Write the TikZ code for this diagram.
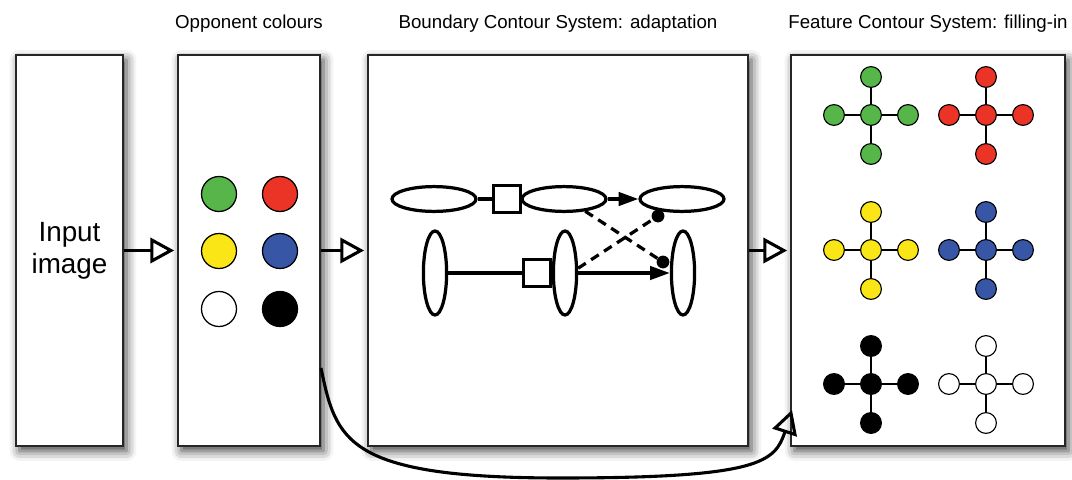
\documentclass[tikz,border=0pt]{standalone}
\usepackage{fontspec}
\setmainfont{Liberation Sans}
\usetikzlibrary{arrows.meta,shapes.geometric,shadows.blur}
\definecolor{cgreen}{RGB}{86,182,74}
\definecolor{cred}{RGB}{236,52,38}
\definecolor{cyellow}{RGB}{250,230,22}
\definecolor{cblue}{RGB}{56,86,166}
\begin{document}
\begin{tikzpicture}[x=0.025cm,y=-0.025cm,
	panel/.style={draw=black!85,line width=1.4pt,fill=white,inner sep=0pt,minimum height=9.775cm,
		blur shadow={shadow xshift=2.5pt,shadow yshift=-3.5pt,shadow blur radius=7pt,shadow opacity=75}},
	heading/.style={anchor=base,font=\fontsize{13.3}{15}\selectfont},
	flow/.style={line width=2.2pt,-{Triangle[open,length=17pt,width=18pt]}},
	opp/.style={circle,draw,line width=0.9pt,inner sep=0pt,minimum size=0.875cm},
	hcell/.style={ellipse,draw,line width=2.3pt,inner sep=0pt,minimum width=2.1cm,minimum height=0.62cm},
	vcell/.style={ellipse,draw,line width=2.3pt,inner sep=0pt,minimum width=0.58cm,minimum height=2.1cm},
	gate/.style={rectangle,draw,line width=2.3pt,inner sep=0pt,minimum size=0.68cm,fill=white},
	knob/.style={circle,fill=black,inner sep=0pt,minimum size=0.32cm},
	excite/.style={line width=2.3pt,-{Triangle[length=14pt,width=9.5pt]}},
	inhibit/.style={line width=2.3pt,dash pattern=on 6.5pt off 4.5pt},
	fcsdot/.style={circle,draw,line width=0.8pt,inner sep=0pt,minimum size=0.52cm},
	]
	\useasboundingbox (0,0) rectangle (1072,480);

	\node[panel,minimum width=2.675cm,align=center,font=\fontsize{19.8}{22.7}\selectfont](inp) at (69.5,250.5){Input\\image};
	\node[panel,minimum width=3.55cm](opc) at (249,250.5){};
	\node[panel,minimum width=9.5cm](bcs) at (558,250.5){};
	\node[panel,minimum width=6.85cm](fcs) at (928,250.5){};

	\node[heading](topc) at (249,28){Opponent colours};
	\node[heading](tbcs) at (558,28){Boundary Contour System: adaptation};
	\node[heading](tfcs) at (928,28){Feature Contour System: filling-in};

	\node[opp,fill=cgreen](og) at (219,194){};
	\node[opp,fill=cred](or) at (280,194){};
	\node[opp,fill=cyellow](oy) at (219,251){};
	\node[opp,fill=cblue](ob) at (280,251){};
	\node[opp,fill=white](ow) at (219,309){};
	\node[opp,fill=black](ok) at (280,309){};

	\node[hcell](ha) at (434,199){};
	\node[gate](ga) at (507,199){};
	\node[hcell](hb) at (564,199){};
	\node[hcell](hc) at (682,199){};
	\node[vcell](va) at (435,273){};
	\node[vcell](vb) at (565,273){};
	\node[gate](gb) at (537,273){};
	\node[vcell](vc) at (683,273){};
	\node[knob](ka) at (663,262){};
	\node[knob](kb) at (658,216){};
	\draw[line width=2.3pt] (ha)--(ga);
	\draw[line width=2.3pt] (ga)--(hb);
	\draw[excite] (hb)--(hc);
	\draw[line width=2.3pt] (va)--(gb);
	\draw[excite] (vb)--(vc);
	\draw[inhibit] (hb.-30)--(ka);
	\draw[inhibit] (vb.20)--(kb);

	\foreach \n/\cx/\cy/\col in {g/871/115/cgreen,r/986/115/cred,y/871/250/cyellow,b/986/250/cblue,k/871/384/black,w/986/384/white}{
		\node[fcsdot,fill=\col](\n c) at (\cx,\cy){};
		\node[fcsdot,fill=\col](\n l) at (\cx-37,\cy){};
		\node[fcsdot,fill=\col](\n r) at (\cx+37,\cy){};
		\node[fcsdot,fill=\col](\n u) at (\cx,\cy-38){};
		\node[fcsdot,fill=\col](\n d) at (\cx,\cy+39){};
		\draw[line width=0.9pt] (\n c)--(\n l);
		\draw[line width=0.9pt] (\n c)--(\n r);
		\draw[line width=0.9pt] (\n c)--(\n u);
		\draw[line width=0.9pt] (\n c)--(\n d);
	}

	\draw[flow,shorten >=2pt] (inp)--(opc);
	\draw[flow,shorten >=2pt] (opc)--(bcs);
	\draw[flow,shorten >=2pt] (bcs)--(fcs);
	\coordinate (tap) at (321,368);
	\coordinate (fill) at (792,410);
	\draw[flow] (tap) .. controls (336,440) and (345,478) .. (560,478) .. controls (760,478) and (775,462) .. (fill);
\end{tikzpicture}
\end{document}
